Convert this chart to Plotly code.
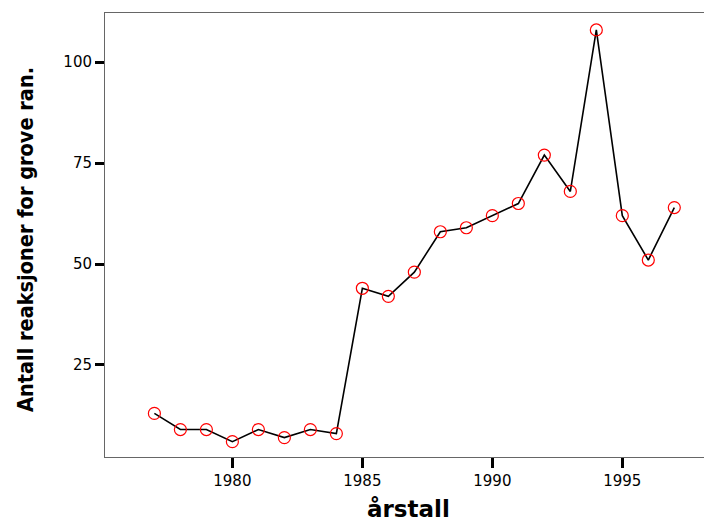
import plotly.graph_objects as go

years = list(range(1977, 1998))
counts = [13, 9, 9, 6, 9, 7, 9, 8, 44, 42, 48, 58, 59, 62, 65, 77, 68, 108, 62, 51, 64]
x_ticks = [1980, 1985, 1990, 1995]
y_ticks = [25, 50, 75, 100]

fig = go.Figure()
fig.add_trace(go.Scatter(
    x=years, y=counts, mode="lines+markers",
    line=dict(color="black", width=1.6),
    marker=dict(symbol="circle-open", size=12, color="red", line=dict(width=1.2, color="red")),
    showlegend=False,
))

fig.update_layout(
    width=704, height=516,
    margin=dict(l=97, r=0, t=5, b=67),
    paper_bgcolor="white", plot_bgcolor="white",
    font=dict(family="DejaVu Sans", color="black"),
    xaxis=dict(
        range=[1975.1, 1998.45], tickvals=x_ticks, ticktext=[str(v) for v in x_ticks],
        showgrid=False, zeroline=False, showline=True, linecolor="#666", linewidth=1, mirror=True,
        ticks="outside", ticklen=10, tickwidth=2.5, tickcolor="black",
        tickfont=dict(size=15, family="DejaVu Sans"), automargin=False,
    ),
    yaxis=dict(
        range=[2.2, 112.2], tickvals=y_ticks, ticktext=[str(v) for v in y_ticks],
        showgrid=False, zeroline=False, showline=True, linecolor="#666", linewidth=1,
        ticks="outside", ticklen=9, tickwidth=2.5, tickcolor="black",
        tickfont=dict(size=15, family="DejaVu Sans"), automargin=False,
    ),
    annotations=[
        dict(text="<b>årstall</b>", xref="paper", yref="paper", x=0.5, y=0,
             xanchor="center", yanchor="middle", yshift=-52, showarrow=False,
             font=dict(size=23, family="DejaVu Sans", color="black")),
        dict(text="<b>Antall reaksjoner for grove ran.</b>", xref="paper", yref="paper",
             x=0, y=0.5, xanchor="center", yanchor="middle", xshift=-80, yshift=-5,
             textangle=-90, showarrow=False,
             font=dict(size=21.5, family="DejaVu Sans Condensed", color="black")),
    ],
)

fig.write_html("out.html")
